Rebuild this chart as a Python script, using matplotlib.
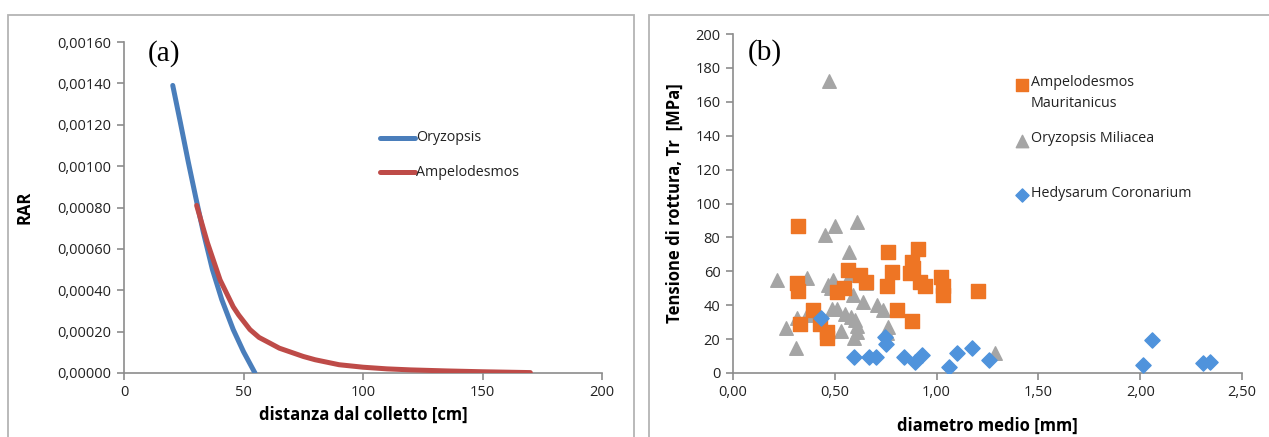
import matplotlib
matplotlib.use('Agg')
import matplotlib.pyplot as plt
from matplotlib.patches import Rectangle
from matplotlib.ticker import FuncFormatter, MultipleLocator

plt.rcParams['font.family'] = ['Open Sans', 'DejaVu Sans']

# --- (a) RAR vs distance ---
ory_x = [20.4, 23.6, 26.9, 30.0, 33.2, 37.0, 40.9, 45.7, 50.0, 54.8]
ory_y = [0.00139, 0.00121, 0.00102, 0.00085, 0.00068, 0.00050, 0.000355, 0.00021,
         0.000103, 0.0]
amp_x = [30.4, 34.9, 40.2, 45.7, 48.0, 52.7, 56.5, 61.1, 65, 70, 75, 80, 90, 100,
         110, 120, 135, 150, 170]
amp_y = [0.00081, 0.00063, 0.00045, 0.00032, 0.00028, 0.00021, 0.000172, 0.000144,
         0.00012, 0.0001, 0.00008, 0.000064, 0.00004, 0.000028, 0.00002, 0.000015,
         0.00001, 0.000006, 0.000002]

# --- (b) tensile strength vs diameter ---
ampm_x = [0.318, 0.313, 0.32, 0.393, 0.329, 0.427, 0.46, 0.46, 0.566, 0.512, 0.545,
          0.624, 0.652, 0.763, 0.779, 0.755, 0.804, 0.878, 0.91, 0.87, 0.885, 0.918,
          0.943, 0.878, 1.02, 1.033, 1.033, 1.205]
ampm_y = [87, 53, 48.6, 37, 29, 29, 24, 20.6, 60.8, 48, 50, 57.8, 53.9, 71.6, 59.8,
          51.5, 37, 65.7, 73, 58.8, 62, 53.9, 51.3, 30.9, 56.8, 51.3, 46, 48.6]
orym_x = [0.47, 0.215, 0.31, 0.26, 0.313, 0.362, 0.365, 0.452, 0.501, 0.61, 0.57,
          0.468, 0.493, 0.48, 0.575, 0.591, 0.64, 0.652, 0.706, 0.738, 0.485, 0.509,
          0.55, 0.578, 0.607, 0.607, 0.594, 0.529, 0.763, 0.755, 1.287, 0.6]
orym_y = [172.5, 54.9, 14.6, 26.3, 32.3, 34, 55.8, 81.4, 87, 89, 71.6, 52, 55, 50,
          57.8, 46, 42, 53, 40, 37, 38, 38, 35, 33, 28, 24, 20.5, 25, 27, 23.4,
          11.6, 31]
hed_x = [0.431, 0.594, 0.67, 0.702, 0.747, 0.751, 0.841, 0.894, 0.927, 1.062, 1.099,
         1.172, 1.259, 2.056, 2.015, 2.307, 2.343]
hed_y = [32.6, 9.6, 9.6, 9.6, 21, 17, 9.6, 6.7, 10.6, 3.7, 11.6, 14.6, 7.7, 19.5,
         4.7, 5.7, 6.7]

c_ory = '#4a7ebb'
c_amp = '#be4b48'
c_orange = '#ee7524'
c_gray = '#a5a5a5'
c_blue = '#4f93dc'
spine_c = '#8c8c8c'

fig = plt.figure(figsize=(12.69, 4.37), dpi=100)

# panel frames
for x0, w in [(8 / 1269, 626 / 1269), (649 / 1269, 630 / 1269)]:
    fig.add_artist(Rectangle((x0, -0.05), w, 1.05 - 15 / 437, transform=fig.transFigure,
                             fill=False, edgecolor='#b4b4b4', lw=1.3))


def style(ax):
    for s in ['top', 'right']:
        ax.spines[s].set_visible(False)
    for s in ['left', 'bottom']:
        ax.spines[s].set_color(spine_c)
        ax.spines[s].set_linewidth(1.2)
    ax.tick_params(direction='out', length=5, width=1.2, color=spine_c,
                   labelsize=10.5, labelcolor='#222222', pad=4)


ax1 = fig.add_axes([124 / 1269, 64 / 437, 478 / 1269, 331 / 437])
ax1.plot(ory_x, ory_y, color=c_ory, lw=3.6, solid_capstyle='round',
         solid_joinstyle='round', zorder=3)
ax1.plot(amp_x, amp_y, color=c_amp, lw=3.6, solid_capstyle='round',
         solid_joinstyle='round', zorder=4)
ax1.set_xlim(0, 200)
ax1.set_ylim(0, 0.0016)
ax1.xaxis.set_major_locator(MultipleLocator(50))
ax1.yaxis.set_major_locator(MultipleLocator(0.0002))
ax1.yaxis.set_major_formatter(FuncFormatter(lambda v, p: f'{v:.5f}'.replace('.', ',')))
style(ax1)
ax1.set_xlabel('distanza dal colletto [cm]', fontsize=12, fontweight='bold', labelpad=4)
ax1.set_ylabel('RAR', fontsize=12, fontweight='bold', labelpad=17)
ax1.text(0.05, 1.005, '(a)', transform=ax1.transAxes, fontsize=21,
         family='Liberation Serif', va='top')
for i, (lab, col) in enumerate([('Oryzopsis', c_ory), ('Ampelodesmos', c_amp)]):
    yy = 0.71 - i * 0.103
    ax1.plot([0.535, 0.608], [yy, yy], transform=ax1.transAxes, color=col, lw=3.6,
             solid_capstyle='round')
    ax1.text(0.611, yy, lab, transform=ax1.transAxes, fontsize=10.3, va='center',
             color='#222222')

ax2 = fig.add_axes([733 / 1269, 64 / 437, 509 / 1269, 339 / 437])
ax2.scatter(orym_x, orym_y, marker='^', s=95, color=c_gray, zorder=3)
ax2.scatter(ampm_x, ampm_y, marker='s', s=95, color=c_orange, zorder=4)
ax2.scatter(hed_x, hed_y, marker='D', s=60, color=c_blue, zorder=5)
ax2.set_xlim(0, 2.5)
ax2.set_ylim(0, 200)
ax2.xaxis.set_major_locator(MultipleLocator(0.5))
ax2.yaxis.set_major_locator(MultipleLocator(20))
ax2.xaxis.set_major_formatter(FuncFormatter(lambda v, p: f'{v:.2f}'.replace('.', ',')))
style(ax2)
ax2.set_xlabel('diametro medio [mm]', fontsize=12, fontweight='bold', labelpad=12)
ax2.set_ylabel('Tensione di rottura, Tr  [MPa]', fontsize=12, fontweight='bold',
               labelpad=8)
ax2.text(0.028, 0.985, '(b)', transform=ax2.transAxes, fontsize=21,
         family='Liberation Serif', va='top')
leg = [('s', c_orange, 80, 'Ampelodesmos\nMauritanicus', 0.85),
       ('^', c_gray, 80, 'Oryzopsis Miliacea', 0.685),
       ('D', c_blue, 45, 'Hedysarum Coronarium', 0.525)]
for m, col, sz, lab, yy in leg:
    ax2.scatter([0.567], [yy], transform=ax2.transAxes, marker=m, s=sz,
                color=col, clip_on=False)
    ax2.text(0.585, yy + 0.028, lab, transform=ax2.transAxes, fontsize=10.3, va='top',
             color='#222222', linespacing=1.5)

fig.savefig('out.png', dpi=100)
